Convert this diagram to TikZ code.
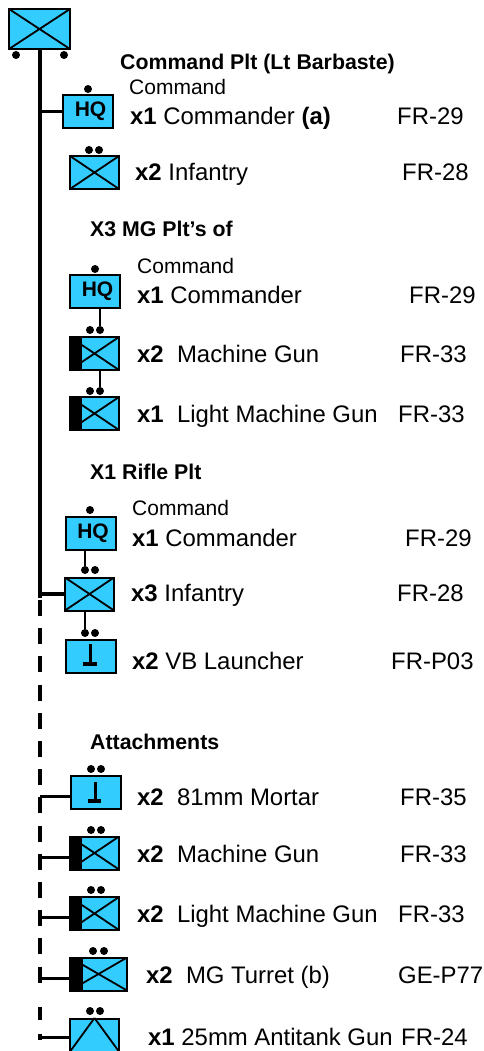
\documentclass[tikz,border=0pt]{standalone}
\usepackage{fontspec}
\setmainfont{Liberation Sans}
\definecolor{unitblue}{RGB}{51,204,255}
\tikzset{
  unit/.style={draw=black,line width=2pt,fill=unitblue,inner sep=0pt,minimum width=#1,minimum height=33pt,font=\fontsize{21}{21}\selectfont\bfseries},
  unit/.default=49pt,
  cross/.style={path picture={\draw[line width=1.8pt] (path picture bounding box.north west)--(path picture bounding box.south east) (path picture bounding box.north east)--(path picture bounding box.south west);}},
  mgbar/.style={path picture={\draw[line width=1.8pt] (path picture bounding box.north west)--(path picture bounding box.south east) (path picture bounding box.north east)--(path picture bounding box.south west);
     \fill[black] (path picture bounding box.north west) rectangle ([xshift=#1]path picture bounding box.south west);}},
  pip/.style={circle,fill=black,inner sep=0pt,minimum size=8pt},
  trunk/.style={line width=4pt},
  stem/.style={line width=2.3pt},
  branch/.style={line width=3.3pt},
  sidebranch/.style={line width=3pt},
  gap/.style={line width=4pt,dash pattern=on 16pt off 12.2pt},
  txt/.style={anchor=base west,inner sep=0pt,font=\fontsize{23.9}{24}\selectfont},
  cmd/.style={anchor=base west,inner sep=0pt,font=\fontsize{21}{21}\selectfont},
  head/.style={anchor=base west,inner sep=0pt,font=\fontsize{21.3}{21.3}\selectfont\bfseries},
}
\newcommand{\row}[6]{% name, x, y, text, refx, ref
  \node[txt] (#1t) at (#2,#3) {#4};
  \node[txt] (#1r) at (#5,#3) {#6};}
\newcommand{\hqtext}{\hspace*{5pt}HQ}
\begin{document}
\begin{tikzpicture}[x=1pt,y=-1pt]
\useasboundingbox (0,0) rectangle (484,1051);
% trunk
\coordinate (tj) at (40,598);
\coordinate (d0) at (40,600); \coordinate (d1) at (40,993);
\coordinate (d2) at (40,1007); \coordinate (d3) at (40,1020);
\coordinate (d4) at (40,1034); \coordinate (d5) at (40,1040);
\draw[trunk] (40,49) -- (tj);
\draw[gap] (d0) -- (d1);
\draw[trunk] (d2) -- (d3) (d4) -- (d5);
% units
\node[unit=61pt,minimum height=40pt,cross] (top) at (39.5,29) {};
\node[pip] (ta) at (16,55) {}; \node[pip] (tb) at (64,55) {};
\node[unit=50pt] (hqa) at (88,111.5) {\hqtext};
\node[pip] (hqad) at (88,89) {};
\node[unit,cross] (infa) at (94.5,172.5) {};
\node[pip] (infd1) at (89,150) {}; \node[pip] (infd2) at (99,150) {};

\node[unit=50pt] (hqb) at (95,291) {\hqtext};
\node[pip] (hqbd) at (95,269) {};
\node[unit,mgbar=12pt] (mga) at (94.5,353.5) {};
\node[pip] (mgad1) at (90,330) {}; \node[pip] (mgad2) at (100,330) {};
\node[unit,mgbar=12pt] (lmga) at (94.5,413.5) {};
\node[pip] (lmgad1) at (90,391) {}; \node[pip] (lmgad2) at (100,391) {};

\node[unit=50pt] (hqc) at (90.5,533) {\hqtext};
\node[pip] (hqcd) at (90,510) {};
\node[unit,cross] (infc) at (89.5,594) {};
\node[pip] (infcd1) at (85,570) {}; \node[pip] (infcd2) at (95,570) {};
\node[unit=50pt] (vb) at (90.5,656.5) {};
\node[pip] (vbd1) at (85,633) {}; \node[pip] (vbd2) at (95,633) {};

\node[unit=50pt] (mor) at (95.5,792.5) {};
\node[pip] (mord1) at (91,769) {}; \node[pip] (mord2) at (101,769) {};
\node[unit,mgbar=12pt] (mgb) at (94.5,853) {};
\node[pip] (mgbd1) at (91,830) {}; \node[pip] (mgbd2) at (101,830) {};
\node[unit,mgbar=12pt] (lmgb) at (94.5,913.5) {};
\node[pip] (lmgbd1) at (91,890) {}; \node[pip] (lmgbd2) at (101,890) {};
\node[unit=57pt,mgbar=13pt] (tur) at (98.5,974) {};
\node[pip] (turd1) at (93,951) {}; \node[pip] (turd2) at (104,951) {};
\node[unit,minimum height=33pt] (at) at (94.5,1035.5) {};
\node[pip] (atd1) at (90,1011) {}; \node[pip] (atd2) at (100,1011) {};
\draw[line width=1.8pt] (at.north) -- (at.south west) (at.north) -- (at.south east);
% weapon marks
\coordinate (vbtop) at (90,644); \coordinate (vbfoot) at (90,664);
\draw[line width=3pt] (vbtop) -- (vbfoot);
\draw[line width=4pt] (83,664) -- (97,664);
\coordinate (mortop) at (95,782); \coordinate (morfoot) at (95,801);
\draw[line width=3pt] (mortop) -- (morfoot);
\draw[line width=4pt] (88,801) -- (101,801);
% branches
\draw[branch] (tj |- hqa.west) -- (hqa.west);
\draw[branch] (tj |- infc.west) -- (infc.west);
\draw[sidebranch] (tj |- 0,796) -- (mor.west |- 0,796);
\draw[sidebranch] (tj |- 0,857) -- (mgb.west |- 0,857);
\draw[sidebranch] (tj |- 0,917) -- (lmgb.west |- 0,917);
\draw[sidebranch] (tj |- 0,978) -- (tur.west |- 0,978);
\draw[sidebranch] (tj |- 0,1037) -- (at.west |- 0,1037);
% stems
\draw[stem] (hqb.south -| mgad2) -- (mgad2);
\draw[stem] (mga.south -| lmgad2) -- (lmgad2);
\draw[stem] (hqc.south -| infcd1) -- (infcd1);
\draw[stem] (infc.south -| vbd1) -- (vbd1);
% text
\node[head] (h1) at (120,69.5) {Command Plt (Lt Barbaste)};
\node[cmd] (c1) at (129,94.5) {Command};
\row{a}{130}{125}{\textbf{x1} Commander \textbf{(a)}}{397}{FR-29}
\row{b}{135}{180}{\textbf{x2} Infantry}{402}{FR-28}
\node[head] (h2) at (90,236) {X3 MG Plt’s of};
\node[cmd] (c2) at (137,273) {Command};
\row{c}{137}{303}{\textbf{x1} Commander}{409}{FR-29}
\row{d}{137}{362}{\textbf{x2}\ \ Machine Gun}{400}{FR-33}
\row{e}{137}{422}{\textbf{x1}\ \ Light Machine Gun}{398}{FR-33}
\node[head] (h3) at (90,479) {X1 Rifle Plt};
\node[cmd] (c3) at (132,515) {Command};
\row{f}{132}{546}{\textbf{x1} Commander}{405}{FR-29}
\row{g}{131}{601}{\textbf{x3} Infantry}{397}{FR-28}
\row{i}{132}{669}{\textbf{x2} VB Launcher}{391}{FR-P03}
\node[head] (h4) at (90,749) {Attachments};
\row{j}{137}{805}{\textbf{x2}\ \ 81mm Mortar}{400}{FR-35}
\row{k}{137}{862}{\textbf{x2}\ \ Machine Gun}{400}{FR-33}
\row{l}{137}{922}{\textbf{x2}\ \ Light Machine Gun}{398}{FR-33}
\row{m}{146}{983}{\textbf{x2}\ \ MG Turret (b)}{398}{GE-P77}
\row{n}{148}{1045}{\textbf{x1} 25mm Antitank Gun}{401}{FR-24}
\end{tikzpicture}
\end{document}
